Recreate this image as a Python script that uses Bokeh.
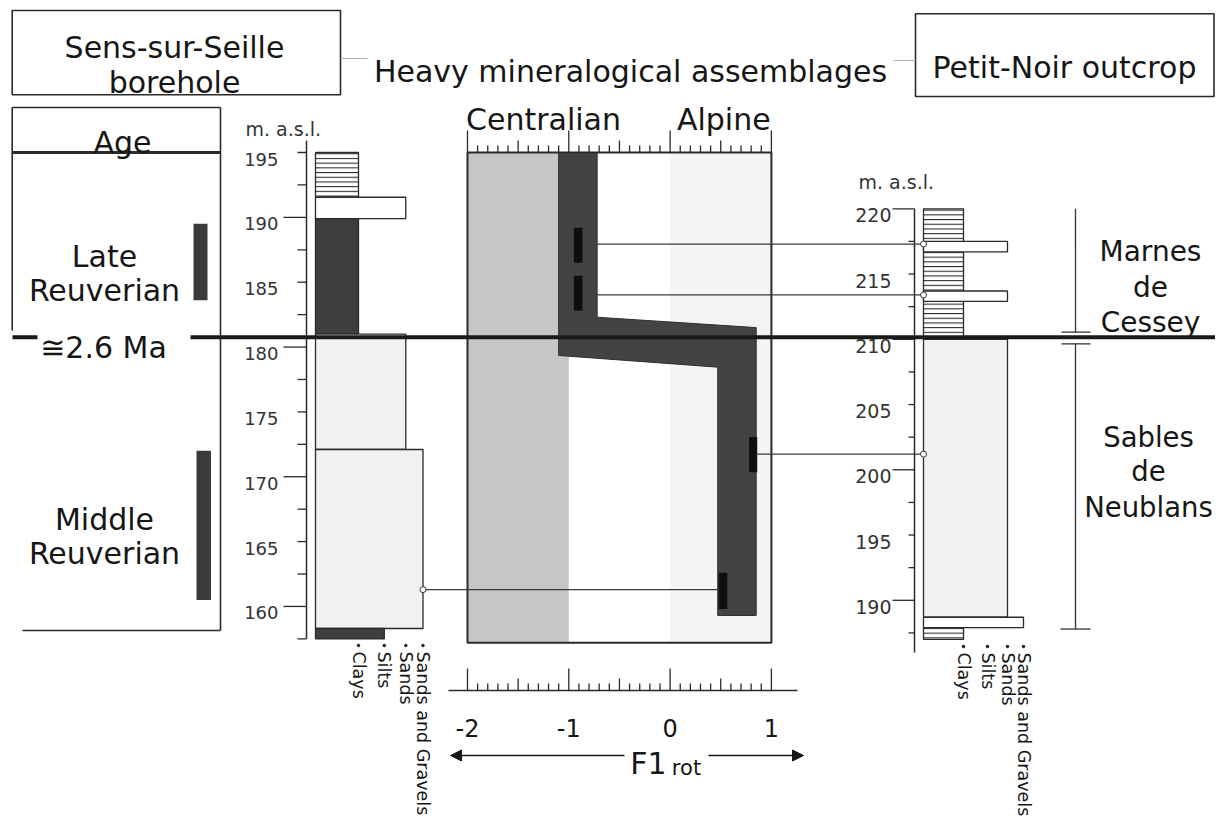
import numpy as np
from bokeh.plotting import figure
from bokeh.models import Range1d, Arrow, NormalHead
from bokeh.embed import file_html
from bokeh.resources import INLINE
from bokeh.core.properties import value

# ======================= data =======================
GRAIN_CLASSES = ["Clays", "Silts", "Sands", "Sands and Gravels"]
GRAIN_WIDTH = [1.0, 1.6, 2.1, 2.5]

# Sens-sur-Seille borehole log (m a.s.l.)
BH_TOP = [195.0, 191.55, 189.9, 181.0, 172.1, 158.3]
BH_BASE = [191.55, 189.9, 181.0, 172.1, 158.3, 157.5]
BH_GRAIN = ["Clays", "Sands", "Clays", "Sands", "Sands and Gravels", "Silts"]
BH_FILL = ["hatch", "open", "dark", "stipple", "stipple", "dark"]

# Petit-Noir outcrop log (m a.s.l.)
OC_TOP = [220.0, 217.5, 213.7, 210.0, 188.7, 187.9]
OC_BASE = [210.0, 216.7, 212.9, 188.7, 187.9, 187.0]
OC_GRAIN = ["Clays", "Sands", "Sands", "Sands", "Sands and Gravels", "Clays"]
OC_FILL = ["hatch", "open", "open", "stipple", "open", "hatch"]

BH_TICKS = [157.5, 160, 162.5, 165, 167.5, 170, 172.5, 175, 177.5, 180,
            182.5, 185, 187.5, 190, 192.5, 195]
BH_LABELS = [160, 165, 170, 175, 180, 185, 190, 195]
OC_TICKS = [187.5, 190, 192.5, 195, 197.5, 200, 202.5, 205, 207.5, 210,
            212.5, 215, 217.5, 220]
OC_LABELS = [190, 195, 200, 205, 210, 215, 220]

AGE_NAMES = [("Late", "Reuverian"), ("Middle", "Reuverian")]
AGE_TOP = [189.5, 172.0]
AGE_BASE = [183.6, 160.5]
BOUNDARY_BH = 180.75
BOUNDARY_LABEL = "\u22452.6 Ma"

# Heavy mineral assemblages, F1rot
F1_MAJOR = [-2, -1, 0, 1]
F1_LABELS = ["-2", "-1", "0", "1"]
F1_MINOR = [round(-2 + 0.1 * i, 1) for i in range(31)]
DOMAIN_NAMES = ["Centralian", "Alpine"]
DOMAIN_CENTER = [-1.25, 0.53]
CENTRALIAN = [-2.0, -1.0]
ALPINE = [0.0, 1.0]
BAND_F1 = [-1.10, -0.72, -0.72, 0.85, 0.85, 0.47, 0.47, -1.10]
BAND_Z = [195.0, 195.0, 182.3, 181.5, 159.3, 159.3, 178.45, 179.35]
SAMPLE_F1_LO = [-0.95, -0.95, 0.78, 0.48]
SAMPLE_F1_HI = [-0.865, -0.865, 0.86, 0.565]
SAMPLE_TOP = [189.2, 185.5, 173.05, 162.6]
SAMPLE_BASE = [186.5, 182.8, 170.35, 159.8]
LINK_OC_F1 = [-0.72, -0.72, 0.85]
LINK_OC_Z = [217.3, 213.4, 201.2]
LINK_BH_F1 = [0.48]
LINK_BH_Z = [161.3]

UNIT_NAMES = [("Marnes", "de", "Cessey"), ("Sables", "de", "Neublans")]
UNIT_TOP = [220.0, 209.65]
UNIT_BASE = [210.55, 187.8]

# ======================= layout (page pixels) =======================
W, H = 1215, 821
X0, X1, Y0, Y1 = 0, W, H, 0
BH_AXIS_X, BH_COL_X, BH_PPU = 306, 315, 43.0
BH_REF_PX, BH_REF_Z, BH_PPM = 152.0, 195.0, 12.97
OC_AXIS_X, OC_COL_X, OC_PPU = 914, 923, 40.0
OC_REF_PX, OC_REF_Z, OC_PPM = 208.3, 220.0, 13.05
F1_REF_PX, F1_REF, F1_PPU = 467.0, -2.0, 101.3
PANEL_TOP_Z, PANEL_BASE_Z = 195.0, 157.2
F1_AXIS_Y = 690
FONT = "DejaVu Sans"
INK = "#161616"
LINE = "#2a2a2a"


def rng(p0, p1, ref_px, ref_val, ppu):
    return Range1d(ref_val + (p0 - ref_px) / ppu, ref_val + (p1 - ref_px) / ppu)


def px_to_f1(px):
    return F1_REF + (px - F1_REF_PX) / F1_PPU


def bh_px(z):
    return BH_REF_PX + (BH_REF_Z - z) * BH_PPM


p = figure(width=W, height=H, x_range=Range1d(X0, X1), y_range=Range1d(Y0, Y1),
           output_backend="svg", toolbar_location=None, x_axis_type=None,
           y_axis_type=None, min_border=0, outline_line_color=None,
           background_fill_color="white")
p.extra_x_ranges = {
    "bh": rng(X0, X1, BH_COL_X, 0.0, BH_PPU),
    "oc": rng(X0, X1, OC_COL_X, 0.0, OC_PPU),
    "f1": rng(X0, X1, F1_REF_PX, F1_REF, F1_PPU),
}
p.extra_y_ranges = {
    "bh": rng(Y0, Y1, BH_REF_PX, BH_REF_Z, -BH_PPM),
    "oc": rng(Y0, Y1, OC_REF_PX, OC_REF_Z, -OC_PPM),
}


def txt(x, y, s, size, align="center", baseline="alphabetic", xr="default",
        yr="default", angle=0.0, color=INK):
    p.text(x=x, y=y, text=s, x_range_name=xr, y_range_name=yr, angle=angle,
           text_font=value(FONT), text_font_size=f"{size}px", text_align=align,
           text_baseline=baseline, text_color=color)


# ---------------- header boxes ----------------
p.quad(left=[11.7, 915], right=[340, 1213.5], top=[10, 13.3], bottom=[94.3, 96],
       fill_color=None, line_color=LINE, line_width=1.6)
txt([174, 174], [46.7, 81.7], ["Sens-sur-Seille", "borehole"], 30)
txt([1064], [66.7], ["Petit-Noir outcrop"], 30)
txt([630], [70.7], ["Heavy mineralogical assemblages"], 30)
p.segment(x0=[340, 893], x1=[367, 915], y0=[58, 60], y1=[58, 60],
          line_color="#b0b0b0", line_width=1.2)

# ---------------- Age column ----------------
p.segment(x0=[11.7, 220, 11.7, 22], x1=[220, 220, 11.7, 220],
          y0=[107, 107, 107, 630], y1=[107, 630, 330, 630],
          line_color=LINE, line_width=1.6)
p.segment(x0=[11.7], x1=[220], y0=[152], y1=[152], line_color=LINE, line_width=3)
txt([122], [141.8], ["Age"], 30)
p.quad(left=[193, 196], right=[207, 210.5], top=AGE_TOP, bottom=AGE_BASE,
       y_range_name="bh", fill_color="#3b3b3b", line_color=None)
for (l1, l2), t, b in zip(AGE_NAMES, AGE_TOP, AGE_BASE):
    mid = bh_px((t + b) / 2)
    txt([104], [mid - 6], [l1], 30)
    txt([104], [mid + 28], [l2], 30)

# ---------------- middle panel (F1rot) ----------------
p.quad(left=[CENTRALIAN[0]], right=[CENTRALIAN[1]], top=[PANEL_TOP_Z],
       bottom=[PANEL_BASE_Z], x_range_name="f1", y_range_name="bh",
       fill_color="#c6c6c6", line_color=None)
p.quad(left=[ALPINE[0]], right=[ALPINE[1]], top=[PANEL_TOP_Z],
       bottom=[PANEL_BASE_Z], x_range_name="f1", y_range_name="bh",
       fill_color="#f4f4f4", line_color=None)
p.patch(x=BAND_F1, y=BAND_Z, x_range_name="f1", y_range_name="bh",
        fill_color="#434343", line_color="#303030", line_width=1)
p.quad(left=SAMPLE_F1_LO, right=SAMPLE_F1_HI, top=SAMPLE_TOP, bottom=SAMPLE_BASE,
       x_range_name="f1", y_range_name="bh", fill_color="#0e0e0e", line_color=None)
p.quad(left=[F1_MAJOR[0]], right=[F1_MAJOR[-1]], top=[PANEL_TOP_Z],
       bottom=[PANEL_BASE_Z], x_range_name="f1", y_range_name="bh",
       fill_color=None, line_color=LINE, line_width=2)
txt(DOMAIN_CENTER, [119.3, 119.3], DOMAIN_NAMES, 30, xr="f1")


def tick_len(v):
    if abs(v - round(v)) < 1e-6:
        return 22
    if abs(v * 2 - round(v * 2)) < 1e-6:
        return 12
    return 7


top_px = bh_px(PANEL_TOP_Z)
p.segment(x0=F1_MINOR, x1=F1_MINOR, y0=[top_px] * len(F1_MINOR),
          y1=[top_px - tick_len(v) for v in F1_MINOR], x_range_name="f1",
          line_color=LINE, line_width=1.3)
# bottom F1 scale
p.segment(x0=[px_to_f1(448)], x1=[px_to_f1(797)], y0=[F1_AXIS_Y], y1=[F1_AXIS_Y],
          x_range_name="f1", line_color=LINE, line_width=1.5)
p.segment(x0=F1_MINOR, x1=F1_MINOR, y0=[F1_AXIS_Y] * len(F1_MINOR),
          y1=[F1_AXIS_Y - tick_len(v) for v in F1_MINOR], x_range_name="f1",
          line_color=LINE, line_width=1.3)
txt(F1_MAJOR, [727.3] * 4, F1_LABELS, 24, xr="f1")
txt([648], [763.3], ["F1"], 30)
txt([686], [767], ["rot"], 21)
head = dict(size=11, fill_color=INK, line_color=INK)
p.add_layout(Arrow(x_start=px_to_f1(624), y_start=755, x_end=px_to_f1(450), y_end=755,
                   x_range_name="f1", line_color=INK, line_width=1.5,
                   start=None, end=NormalHead(**head)))
p.add_layout(Arrow(x_start=px_to_f1(708), y_start=755, x_end=px_to_f1(803), y_end=755,
                   x_range_name="f1", line_color=INK, line_width=1.5,
                   start=None, end=NormalHead(**head)))

# ---------------- lithological logs ----------------
STYLE = {
    "hatch": dict(fill_color="white", hatch_pattern="horizontal_line", hatch_scale=4.7,
                  hatch_color="#2a2a2a", hatch_weight=1.1),
    "open": dict(fill_color="white"),
    "dark": dict(fill_color="#3e3e3e"),
    "stipple": dict(fill_color="#f1f1f1"),
}
gw = dict(zip(GRAIN_CLASSES, GRAIN_WIDTH))
for t, b, g, f in zip(BH_TOP, BH_BASE, BH_GRAIN, BH_FILL):
    p.quad(left=[0], right=[gw[g]], top=[t], bottom=[b], x_range_name="bh",
           y_range_name="bh", line_color=LINE, line_width=1.3, **STYLE[f])
for t, b, g, f in zip(OC_TOP, OC_BASE, OC_GRAIN, OC_FILL):
    p.quad(left=[0], right=[gw[g]], top=[t], bottom=[b], x_range_name="oc",
           y_range_name="oc", line_color=LINE, line_width=1.3, **STYLE[f])

# elevation axes
p.segment(x0=[BH_AXIS_X], x1=[BH_AXIS_X], y0=[BH_TICKS[0]], y1=[195.9],
          y_range_name="bh", line_color=LINE, line_width=1.5)
p.segment(x0=[BH_AXIS_X - (23 if v % 10 == 0 else 9) for v in BH_TICKS],
          x1=[BH_AXIS_X] * len(BH_TICKS), y0=BH_TICKS, y1=BH_TICKS,
          y_range_name="bh", line_color=LINE, line_width=1.3)
txt([BH_AXIS_X - 28] * len(BH_LABELS), [bh_px(v) + 6.5 for v in BH_LABELS],
    [str(v) for v in BH_LABELS], 18, align="right", color="#333333")
txt([245], [128.3], ["m. a.s.l."], 19, align="left", color="#333333")

p.segment(x0=[OC_AXIS_X], x1=[OC_AXIS_X], y0=[186.0], y1=[OC_TICKS[-1]],
          y_range_name="oc", line_color=LINE, line_width=1.5)
p.segment(x0=[OC_AXIS_X - (22 if v % 10 == 0 else 6) for v in OC_TICKS],
          x1=[OC_AXIS_X] * len(OC_TICKS), y0=OC_TICKS, y1=OC_TICKS,
          y_range_name="oc", line_color=LINE, line_width=1.3)
oc_px = [OC_REF_PX + (OC_REF_Z - v) * OC_PPM for v in OC_LABELS]
txt([OC_AXIS_X - 23] * len(OC_LABELS), [y + 6.5 for y in oc_px],
    [str(v) for v in OC_LABELS], 19, align="right", color="#333333")
txt([858], [181.7], ["m. a.s.l."], 19, align="left", color="#333333")

# grain-size labels
p.scatter(x=GRAIN_WIDTH, y=[645] * 4, x_range_name="bh", size=2.5, color=INK)
txt(GRAIN_WIDTH, [651] * 4, GRAIN_CLASSES, 17.5, align="left", baseline="middle",
    xr="bh", angle=-np.pi / 2)
p.scatter(x=GRAIN_WIDTH, y=[646] * 4, x_range_name="oc", size=2.5, color=INK)
txt(GRAIN_WIDTH, [652] * 4, GRAIN_CLASSES, 17.5, align="left", baseline="middle",
    xr="oc", angle=-np.pi / 2)

# ---------------- correlation links ----------------
oc_col_f1 = px_to_f1(OC_COL_X)
p.segment(x0=LINK_OC_F1, x1=[oc_col_f1] * len(LINK_OC_F1), y0=LINK_OC_Z, y1=LINK_OC_Z,
          x_range_name="f1", y_range_name="oc", line_color="#3a3a3a", line_width=1.2)
bh_sg_f1 = px_to_f1(BH_COL_X + gw["Sands and Gravels"] * BH_PPU)
p.segment(x0=[bh_sg_f1] * len(LINK_BH_F1), x1=LINK_BH_F1, y0=LINK_BH_Z, y1=LINK_BH_Z,
          x_range_name="f1", y_range_name="bh", line_color="#3a3a3a", line_width=1.2)
p.scatter(x=[0] * len(LINK_OC_Z), y=LINK_OC_Z, x_range_name="oc", y_range_name="oc",
          size=6, fill_color="white", line_color="#333333", line_width=1)
p.scatter(x=[gw["Sands and Gravels"]] * len(LINK_BH_Z), y=LINK_BH_Z, x_range_name="bh",
          y_range_name="bh", size=6, fill_color="white", line_color="#333333",
          line_width=1)

# ---------------- lithostratigraphic units ----------------
p.segment(x0=[1075] * 2, x1=[1075] * 2, y0=UNIT_TOP, y1=UNIT_BASE, y_range_name="oc",
          line_color="#333333", line_width=1.3)
p.segment(x0=[1061, 1061, 1060], x1=[1090, 1090, 1090],
          y0=[UNIT_BASE[0], UNIT_TOP[1], UNIT_BASE[1]],
          y1=[UNIT_BASE[0], UNIT_TOP[1], UNIT_BASE[1]], y_range_name="oc",
          line_color="#333333", line_width=1.3)
txt([1150] * 3, [251, 287, 322], list(UNIT_NAMES[0]), 28)
txt([1148] * 3, [436, 470, 506], list(UNIT_NAMES[1]), 27.5)

# ---------------- 2.6 Ma boundary ----------------
p.segment(x0=[12, 190], x1=[37, W], y0=[BOUNDARY_BH] * 2, y1=[BOUNDARY_BH] * 2,
          y_range_name="bh", line_color="#1a1a1a", line_width=4)
txt([103], [346.7], [BOUNDARY_LABEL], 30)

open("out.html", "w").write(file_html(p, INLINE))
